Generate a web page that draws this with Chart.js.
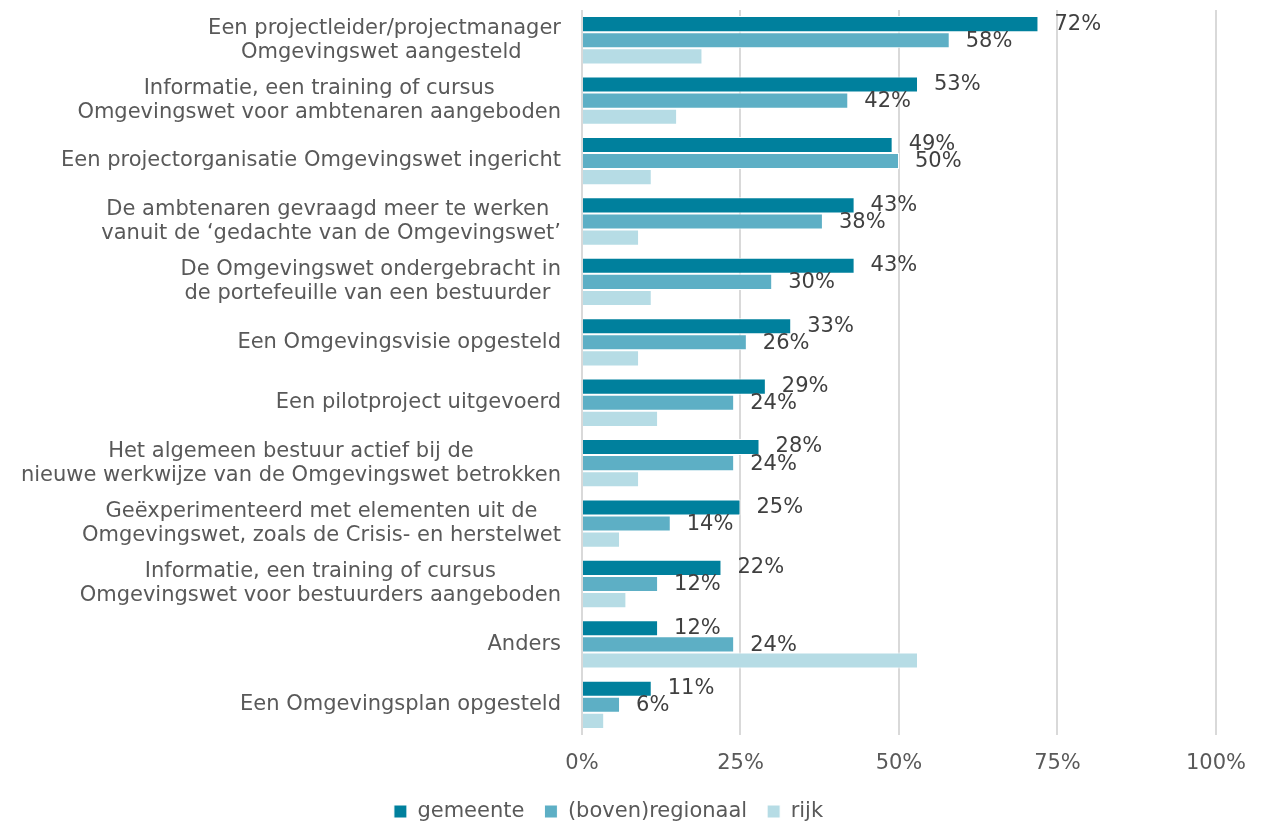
<!DOCTYPE html>
<html>
<head>
<meta charset="utf-8">
<script src="https://cdn.jsdelivr.net/npm/chart.js@4.4.1/dist/chart.umd.min.js"></script>
<style>
  body { margin: 0; background: #fff; }
  #wrap { width: 1262px; height: 824px; position: relative; }
</style>
</head>
<body>
<div id="wrap"><canvas id="chart"></canvas></div>
<script>
const categories = [
  ["Een projectleider/projectmanager", "Omgevingswet aangesteld "],
  ["Informatie, een training of cursus", "Omgevingswet voor ambtenaren aangeboden"],
  ["Een projectorganisatie Omgevingswet ingericht"],
  ["De ambtenaren gevraagd meer te werken ", "vanuit de \u2018gedachte van de Omgevingswet\u2019"],
  ["De Omgevingswet ondergebracht in", "de portefeuille van een bestuurder "],
  ["Een Omgevingsvisie opgesteld"],
  ["Een pilotproject uitgevoerd"],
  ["Het algemeen bestuur actief bij de", "nieuwe werkwijze van de Omgevingswet betrokken"],
  ["Ge\u00ebxperimenteerd met elementen uit de", "Omgevingswet, zoals de Crisis- en herstelwet"],
  ["Informatie, een training of cursus", "Omgevingswet voor bestuurders aangeboden"],
  ["Anders"],
  ["Een Omgevingsplan opgesteld"]
];
const gemeente = [72, 53, 49, 43, 43, 33, 29, 28, 25, 22, 12, 11];
const regionaal = [58, 42, 50, 38, 30, 26, 24, 24, 14, 12, 24, 6];
const rijk = [19, 15, 11, 9, 11, 9, 12, 9, 6, 7, 53, 3.5];
const xTicks = [0, 25, 50, 75, 100];

const FONT = "'DejaVu Sans', Verdana, sans-serif";
const SIZE = 21;

// category labels: lines centred inside a right-aligned block
const catLabels = {
  id: "catLabels",
  afterDraw(chart) {
    const ctx = chart.ctx;
    const y = chart.scales.y;
    const right = chart.chartArea.left - 21;
    ctx.save();
    ctx.font = SIZE + "px " + FONT;
    ctx.fillStyle = "#595959";
    ctx.textAlign = "center";
    ctx.textBaseline = "middle";
    categories.forEach((lines, i) => {
      const maxW = Math.max(...lines.map(l => ctx.measureText(l).width));
      const cx = right - maxW / 2;
      const cy = y.getPixelForValue(i);
      const top = cy - (lines.length - 1) * 12;
      lines.forEach((l, j) => ctx.fillText(l, cx, top + j * 24));
    });
    ctx.restore();
  }
};

// value labels for gemeente and regionaal
const valueLabels = {
  id: "valueLabels",
  afterDatasetsDraw(chart) {
    const ctx = chart.ctx;
    ctx.save();
    ctx.font = SIZE + "px " + FONT;
    ctx.fillStyle = "#404040";
    ctx.textAlign = "left";
    ctx.textBaseline = "middle";
    [0, 1].forEach(d => {
      const meta = chart.getDatasetMeta(d);
      meta.data.forEach((bar, i) => {
        const v = chart.data.datasets[d].data[i];
        ctx.fillText(v + "%", bar.x + 16, bar.y + (d === 1 ? 1 : 0));
      });
    });
    ctx.restore();
  }
};

new Chart(document.getElementById("chart"), {
  type: "bar",
  data: {
    labels: categories.map(c => c.join(" ")),
    datasets: [
      { label: "gemeente", data: gemeente, backgroundColor: "#00809D" },
      { label: "(boven)regionaal", data: regionaal, backgroundColor: "#5DAFC5" },
      { label: "rijk", data: rijk, backgroundColor: "#B6DCE5" }
    ].map(ds => Object.assign(ds, {
      borderColor: "#ffffff",
      borderWidth: 1,
      barPercentage: 1,
      categoryPercentage: 0.8
    }))
  },
  options: {
    indexAxis: "y",
    responsive: true,
    maintainAspectRatio: false,
    animation: false,
    layout: { padding: { top: 10, right: 45, left: 0, bottom: -8 } },
    plugins: {
      tooltip: { enabled: false },
      legend: {
        position: "bottom",
        labels: {
          boxWidth: 13,
          boxHeight: 13,
          padding: 20,
          color: "#595959",
          font: { family: FONT, size: SIZE }
        }
      }
    },
    scales: {
      x: {
        min: 0,
        max: 100,
        afterBuildTicks: s => { s.ticks = xTicks.map(v => ({ value: v })); },
        afterFit: s => { s.height = 46; },
        ticks: {
          callback: v => v + "%",
          color: "#595959",
          font: { family: FONT, size: SIZE },
          padding: 16,
          maxRotation: 0
        },
        grid: { color: "#D9D9D9", lineWidth: 2, drawTicks: false },
        border: { display: false }
      },
      y: {
        ticks: { display: false },
        grid: { display: false },
        border: { display: false },
        afterFit: s => { s.width = 582; }
      }
    }
  },
  plugins: [catLabels, valueLabels]
});
</script>
</body>
</html>
